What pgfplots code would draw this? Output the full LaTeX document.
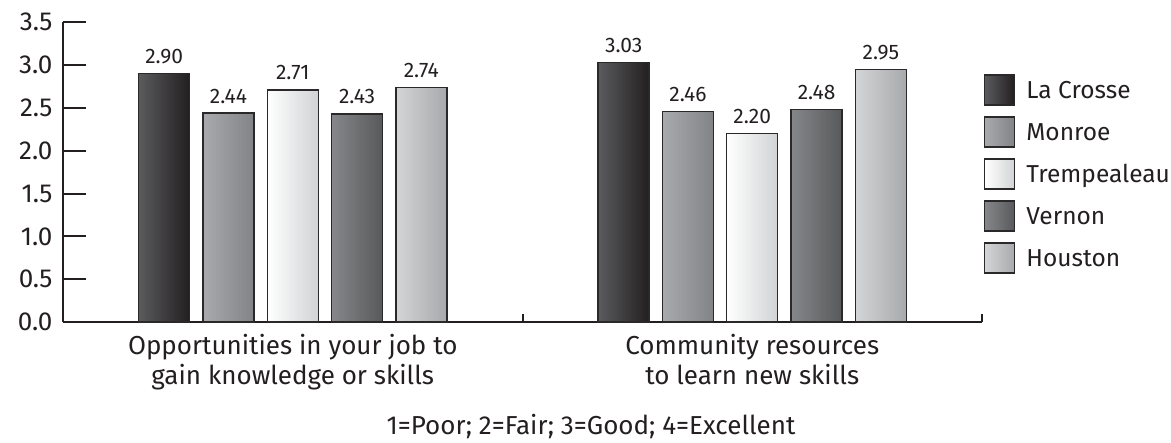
\documentclass[border=0pt]{standalone}
\usepackage{pgfplots}
\pgfplotsset{compat=1.18}
\usepackage{fontspec}
\setmainfont{Fira Sans}
\definecolor{txt}{HTML}{231F20}
\definecolor{edge}{HTML}{2B2829}
\definecolor{lcL}{HTML}{5A5B5D}\definecolor{lcR}{HTML}{231F20}
\definecolor{moL}{HTML}{A9AAAD}\definecolor{moR}{HTML}{828386}
\definecolor{trL}{HTML}{FFFFFF}\definecolor{trR}{HTML}{D1D3D4}
\definecolor{veL}{HTML}{86878A}\definecolor{veR}{HTML}{58595B}
\definecolor{hoL}{HTML}{D4D5D7}\definecolor{hoR}{HTML}{A7A9AC}
\newcommand\bigf{\fontsize{26bp}{30bp}\selectfont}
\begin{document}
\begin{tikzpicture}
\begin{axis}[
  name=ax,
  scale only axis,
  width=919bp, height=299.7bp,
  xmin=-0.5, xmax=1.5, ymin=0, ymax=3.5,
  clip=false,
  axis x line*=bottom, axis y line*=left,
  axis line style={line width=2bp, txt, -},
  ybar, bar width=51bp,
  xtick=\empty,
  extra x ticks={-0.5,0.5,1.5},
  extra x tick labels={},
  extra x tick style={major tick length=8bp, tick style={line width=2bp, txt}},
  ytick={0,0.5,1,1.5,2,2.5,3,3.5},
  major tick length=23bp,
  tick align=inside,
  ytick style={line width=2bp, txt},
  yticklabel style={font=\bigf, text=txt, /pgf/number format/.cd, fixed, fixed zerofill, precision=1, assume math mode=true},
  yticklabel shift=7bp,
  nodes near coords={\pgfmathprintnumber[fixed,fixed zerofill,precision=2,assume math mode=true]{\pgfplotspointmeta}},
  every node near coord/.append style={font=\fontsize{21bp}{25bp}\selectfont, text=txt, inner sep=0pt, anchor=base, yshift=10bp},
  legend style={at={(1.0022,0.826)}, anchor=north west, draw=none, fill=none, inner sep=0pt, outer sep=0pt,
    row sep=10.6bp, font=\fontsize{24.5bp}{29bp}\selectfont, text=txt,
    nodes={inner sep=0pt, text height=18bp, text depth=1bp}},
  /tikz/every odd column/.append style={column sep=11bp},
  legend cell align=left,
  bs/.style={draw=edge, line width=1.4bp, bar shift=#1,
    legend image code/.code={\draw[##1] (0bp,-15bp) rectangle (30bp,15bp);}},
]
% Group 1: Opportunities in your job to gain knowledge or skills
\addplot[bs=-128.6bp, left color=lcL, right color=lcR] coordinates {(0,2.90)};
\addplot[bs=-64.3bp,  left color=moL, right color=moR] coordinates {(0,2.44)};
\addplot[bs=0bp,      left color=trL, right color=trR] coordinates {(0,2.71)};
\addplot[bs=64.3bp,   left color=veL, right color=veR] coordinates {(0,2.43)};
\addplot[bs=128.6bp,  left color=hoL, right color=hoR] coordinates {(0,2.74)};
% Group 2: Community resources to learn new skills
\addplot[forget plot, bs=-128.6bp, left color=lcL, right color=lcR] coordinates {(1,3.03)};
\addplot[forget plot, bs=-64.3bp,  left color=moL, right color=moR] coordinates {(1,2.46)};
\addplot[forget plot, bs=0bp,      left color=trL, right color=trR] coordinates {(1,2.20)};
\addplot[forget plot, bs=64.3bp,   left color=veL, right color=veR] coordinates {(1,2.48)};
\addplot[forget plot, bs=128.6bp,  left color=hoL, right color=hoR] coordinates {(1,2.95)};
\legend{La Crosse, Monroe, Trempealeau, Vernon, Houston}
\node[anchor=north, align=center, font=\bigf, text=txt, inner sep=0pt] at ([yshift=-12bp]axis cs:0,0) {Opportunities in your job to\\gain knowledge or skills};
\node[anchor=north, align=center, font=\bigf, text=txt, inner sep=0pt] at ([yshift=-12bp]axis cs:1,0) {Community resources\\to learn new skills};
\node[anchor=base, font=\bigf, text=txt, inner sep=0pt] at ([xshift=68.5bp, yshift=-113bp]axis cs:0.5,0) {1=Poor; 2=Fair; 3=Good; 4=Excellent};
\end{axis}
\pgfresetboundingbox
\path ([shift={(-63bp,-121bp)}]ax.south west) rectangle ([shift={(189bp,22.3bp)}]ax.north east);
\end{tikzpicture}
\end{document}
